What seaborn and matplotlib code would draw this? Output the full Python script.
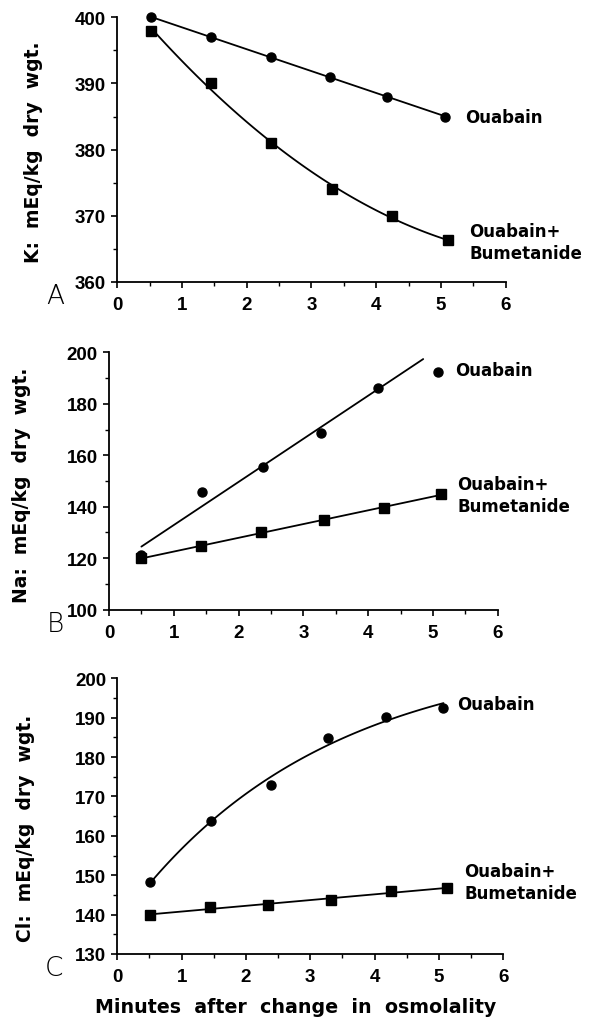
import numpy as np
import pandas as pd
import matplotlib
matplotlib.use("Agg")
import matplotlib.pyplot as plt
import seaborn as sns
from matplotlib.ticker import MultipleLocator

# ---------------- data ----------------
# Panel A: K
ouab_A_x = [0.52, 1.45, 2.37, 3.29, 4.16, 5.06]
ouab_A_y = [400.0, 397.0, 394.0, 391.0, 388.0, 385.0]
bum_A_x = [0.52, 1.44, 2.37, 3.32, 4.25, 5.11]
bum_A_y = [398.0, 390.0, 381.0, 374.0, 370.0, 366.3]

# Panel B: Na
ouab_B_x = [0.50, 1.44, 2.38, 3.27, 4.16, 5.08]
ouab_B_y = [121.3, 145.6, 155.5, 168.8, 186.3, 192.5]
bum_B_x = [0.50, 1.42, 2.34, 3.32, 4.25, 5.12]
bum_B_y = [119.9, 124.8, 130.0, 134.8, 139.7, 144.8]

# Panel C: Cl
ouab_C_x = [0.51, 1.45, 2.39, 3.28, 4.17, 5.07]
ouab_C_y = [148.2, 163.8, 172.9, 184.8, 190.3, 192.5]
bum_C_x = [0.51, 1.44, 2.35, 3.32, 4.26, 5.12]
bum_C_y = [139.9, 141.9, 142.5, 143.8, 145.9, 146.7]

ylabels = ["K:  mEq/kg  dry  wgt.", "Na:  mEq/kg  dry  wgt.", "Cl:  mEq/kg  dry  wgt."]
panel_letters = ["A", "B", "C"]
label_ouab = "Ouabain"
label_bum = "Ouabain+\nBumetanide"
xlabel = "Minutes  after  change  in  osmolality"

# ---------------- style ----------------
sns.set_style("ticks")
plt.rcParams["font.family"] = ["DejaVu Sans"]
plt.rcParams["axes.linewidth"] = 1.3
for k in ["text.color", "axes.labelcolor", "xtick.color", "ytick.color", "axes.edgecolor"]:
    plt.rcParams[k] = "black"

fig = plt.figure(figsize=(5.9, 10.2), dpi=100)

W, H = 590.0, 1020.0
def ax_rect(l, r, t, b):
    return [l / W, 1 - b / H, (r - l) / W, (b - t) / H]

axA = fig.add_axes(ax_rect(117.3, 505.7, 18.3, 283.0))
axB = fig.add_axes(ax_rect(109.0, 497.7, 353.3, 610.7))
axC = fig.add_axes(ax_rect(117.3, 503.3, 679.3, 955.0))


def fit_line(x, y, order, x0, x1):
    c = np.polyfit(x, y, order)
    xs = np.linspace(x0, x1, 100)
    return pd.DataFrame({"x": xs, "y": np.polyval(c, xs)})


def fit_sat(x, y, x0, x1):
    # y = a - b*exp(-k x), least squares via grid over k
    x = np.asarray(x); y = np.asarray(y)
    best = None
    for k in np.linspace(0.05, 2.0, 400):
        M = np.column_stack([np.ones_like(x), -np.exp(-k * x)])
        coef, res, *_ = np.linalg.lstsq(M, y, rcond=None)
        r = np.sum((M @ coef - y) ** 2)
        if best is None or r < best[0]:
            best = (r, k, coef)
    _, k, (a, b) = best
    xs = np.linspace(x0, x1, 100)
    return pd.DataFrame({"x": xs, "y": a - b * np.exp(-k * xs)})


def draw(ax, ox, oy, bx, by, fit_o, fit_b):
    sns.lineplot(data=fit_o, x="x", y="y", ax=ax, color="black", lw=1.3, sort=False)
    sns.lineplot(data=fit_b, x="x", y="y", ax=ax, color="black", lw=1.3, sort=False)
    ax.plot(ox, oy, "o", color="black", ms=6.5, clip_on=False, zorder=5)
    ax.plot(bx, by, "s", color="black", ms=6.5, clip_on=False, zorder=5)


draw(axA, ouab_A_x, ouab_A_y, bum_A_x, bum_A_y,
     fit_line(ouab_A_x, ouab_A_y, 1, ouab_A_x[0], ouab_A_x[-1]),
     fit_line(bum_A_x, bum_A_y, 2, bum_A_x[0], bum_A_x[-1]))
draw(axB, ouab_B_x, ouab_B_y, bum_B_x, bum_B_y,
     fit_line(ouab_B_x[:5], ouab_B_y[:5], 1, ouab_B_x[0], 4.85),
     fit_line(bum_B_x, bum_B_y, 1, bum_B_x[0], bum_B_x[-1]))
draw(axC, ouab_C_x, ouab_C_y, bum_C_x, bum_C_y,
     fit_sat(ouab_C_x, ouab_C_y, ouab_C_x[0], ouab_C_x[-1]),
     fit_line(bum_C_x, bum_C_y, 1, bum_C_x[0], bum_C_x[-1]))

limits = [(360, 400, 10, 5), (100, 200, 20, 10), (130, 200, 10, 5)]
ylab_pos = [(-0.2145, 0.495), (-0.224, 0.488), (-0.239, 0.46)]
tick_font = dict(family="Liberation Sans", weight="bold", size=13.5)

for ax, (y0, y1, maj, mnr), yl, (lx, ly) in zip([axA, axB, axC], limits, ylabels, ylab_pos):
    ax.set_xlim(0, 6)
    ax.set_ylim(y0, y1)
    ax.xaxis.set_major_locator(MultipleLocator(1))
    ax.xaxis.set_minor_locator(MultipleLocator(0.5))
    ax.yaxis.set_major_locator(MultipleLocator(maj))
    ax.yaxis.set_minor_locator(MultipleLocator(mnr))
    ax.tick_params(which="major", direction="out", length=4, width=1.2, colors="black", pad=4)
    ax.tick_params(which="minor", direction="out", length=3, width=1.0, colors="black")
    ax.tick_params(axis="x", which="major", pad=6)
    for lab in ax.get_xticklabels() + ax.get_yticklabels():
        lab.set_fontfamily(tick_font["family"])
        lab.set_fontweight(tick_font["weight"])
        lab.set_fontsize(tick_font["size"])
    ax.set_xlabel("")
    ax.set_ylabel(yl, fontsize=13.5, fontweight="bold", va="center")
    ax.yaxis.set_label_coords(lx, ly)
    sns.despine(ax=ax)

txt = dict(fontsize=12, fontweight="bold", va="center", ha="left")
def label(ax, x, y, s, dx, dy, ls=1.3):
    ax.annotate(s, (x, y), xytext=(dx, dy), textcoords="offset points",
                linespacing=ls, annotation_clip=False, **txt)

label(axA, ouab_A_x[-1], ouab_A_y[-1], label_ouab, 14.5, 0)
label(axA, bum_A_x[-1], bum_A_y[-1], label_bum, 15.5, -1.0)
label(axB, ouab_B_x[-1], ouab_B_y[-1], label_ouab, 12, 1)
label(axB, bum_B_x[-1], bum_B_y[-1], label_bum, 12, -0.5)
label(axC, ouab_C_x[-1], ouab_C_y[-1], label_ouab, 10, 3)
label(axC, bum_C_x[-1], bum_C_y[-1], label_bum, 12.5, 4.5)

for letter, (px, py) in zip(panel_letters, [(55, 297), (55, 625), (54, 969)]):
    fig.text(px / W, 1 - py / H, letter, fontsize=19, fontfamily="DejaVu Sans",
             fontweight="light", ha="center", va="center")

fig.text(295.5 / W, 1 - 1008 / H, xlabel, fontsize=13.7, fontweight="bold",
         ha="center", va="center")

fig.savefig("out.png", dpi=100, facecolor="white")
